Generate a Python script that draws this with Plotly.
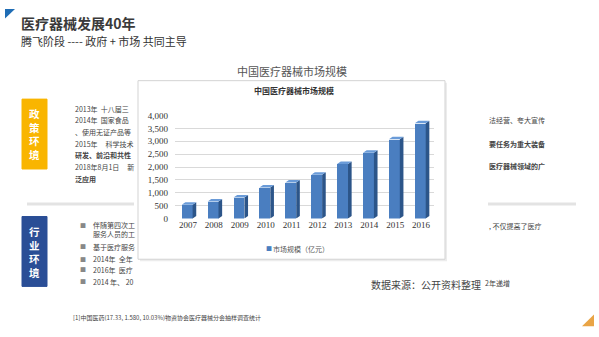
import plotly.graph_objects as go

# ---- data ----
years = [2007, 2008, 2009, 2010, 2011, 2012, 2013, 2014, 2015, 2016]
market_size = [535, 659, 812, 1200, 1400, 1700, 2120, 2556, 3080, 3700]
year_labels = [str(y) for y in years]
y_ticks = [0, 500, 1000, 1500, 2000, 2500, 3000, 3500, 4000]
series_name = "市场规模（亿元）"

policy_lines = ["2013年  十八届三", "2014年  国家食品", "、使用无证产品等", "2015年     科学技术",
                "研发、前沿和共性", "2018年8月1日     新", "泛应用"]
policy_bold = [False, False, False, False, True, False, True]
industry_lines = ["伴随第四次工", "服务人员的工", "基于医疗服务", "2014年  全年", "2016年  医疗", "2014 年、 20"]
industry_bullet = [True, False, True, True, True, True]
right_lines = ["法经营、夸大宣传", "要任务为重大装备", "医疗器械领域的广"]
right_bold = [False, True, True]

W, H = 599, 337
def px(x): return x / W
def py(y): return 1 - y / H

CJK = "Noto Sans CJK SC"
SERIF = "Liberation Serif"
BAR = "#4A7EC0"

fig = go.Figure()

# front faces
fig.add_trace(go.Bar(x=years, y=market_size, width=0.42, offset=-0.24,
                     marker=dict(color=BAR, line=dict(width=0)),
                     name=series_name, showlegend=False))

shapes = []
dx, dy = 0.14, 100
for yr, v in zip(years, market_size):
    x1 = yr + 0.18
    x0 = yr - 0.24
    shapes.append(dict(type="path", xref="x", yref="y", layer="above",
                       path=f"M {x1},0 L {x1+dx},{dy} L {x1+dx},{v+dy} L {x1},{v} Z",
                       fillcolor="#2C5589", line=dict(width=0)))
    shapes.append(dict(type="path", xref="x", yref="y", layer="above",
                       path=f"M {x0},{v} L {x1},{v} L {x1+dx},{v+dy} L {x0+dx},{v+dy} Z",
                       fillcolor="#6A9BD8", line=dict(width=0)))

# chart frame
shapes.append(dict(type="rect", xref="paper", yref="paper", layer="below",
                   x0=px(140), x1=px(447), y0=py(264), y1=py(80),
                   fillcolor="#ececec", line=dict(width=0)))
shapes.append(dict(type="rect", xref="paper", yref="paper", layer="below",
                   x0=px(138), x1=px(445), y0=py(262), y1=py(78),
                   fillcolor="white", line=dict(color="#d3d3d3", width=1)))
# top-left blue triangle
shapes.append(dict(type="path", xref="paper", yref="paper",
                   path=f"M {px(5)},{py(4)} L {px(15)},{py(4)} L {px(5)},{py(14)} Z",
                   fillcolor="#1F6DB5", line=dict(width=0)))
# bottom-right orange triangle
shapes.append(dict(type="path", xref="paper", yref="paper",
                   path=f"M {px(582)},{py(331)} L {px(594)},{py(331)} L {px(594)},{py(319)} Z",
                   fillcolor="#E9A445", line=dict(width=0)))
# label boxes
shapes.append(dict(type="rect", xref="paper", yref="paper", x0=px(22), x1=px(47), y0=py(169), y1=py(97),
                   fillcolor="#F9B500", line=dict(color="#F9B500", width=1)))
shapes.append(dict(type="rect", xref="paper", yref="paper", x0=px(22), x1=px(47), y0=py(290), y1=py(218),
                   fillcolor="#2A4E96", line=dict(color="#2A4E96", width=1)))
# separators
shapes.append(dict(type="line", xref="paper", yref="paper", x0=px(27), x1=px(134), y0=py(205), y1=py(205),
                   line=dict(color="#e3e3e3", width=3)))
shapes.append(dict(type="line", xref="paper", yref="paper", x0=px(488), x1=px(576), y0=py(205), y1=py(205),
                   line=dict(color="#e3e3e3", width=3)))

ann = []
def text(x, y, s, size, color="#333", bold=False, font=CJK, anchor="left"):
    ann.append(dict(x=px(x), y=py(y), xref="paper", yref="paper", text=f"<b>{s}</b>" if bold else s,
                    showarrow=False, xanchor=anchor, yanchor="middle",
                    font=dict(size=size, color=color, family=font)))

text(19, 19, "医疗器械发展40年", 14, "#3a3a3a", bold=True)
text(19, 37, "腾飞阶段 ---- 政府 + 市场 共同主导", 11, "#333")
text(292, 68, "中国医疗器械市场规模", 11, "#555", anchor="center")
text(294, 88, "中国医疗器械市场规模", 8, "#333", bold=True, anchor="center")
text(34.5, 133, "<br>".join("政策环境"), 10.5, "white", bold=True, anchor="center")
text(34.5, 255, "<br>".join("行业环境"), 10.5, "white", bold=True, anchor="center")
for i, (s, b) in enumerate(zip(policy_lines, policy_bold)):
    text(73, 107 + i * 12.0, s, 7, "#444", bold=b)
iy = [227, 236, 249, 262, 273, 285]
for s, b, y in zip(industry_lines, industry_bullet, iy):
    if b:
        text(78, y, "■", 6, "#888")
    text(91, y, s, 7, "#444")
for s, b, y in zip(right_lines, right_bold, [119, 143, 166]):
    text(487, y, s, 7, "#444", bold=b)
text(487, 228, ", 不仅提高了医疗", 7, "#444")
text(483, 287, "2年递增", 7, "#444")
text(369, 288, "数据来源：公开资料整理", 10, "#444")
text(71, 322, "[1]中国医药(17.33, 1.580, 10.03%)物资协会医疗器械分会抽样调查统计", 6, "#444")
# legend
text(264, 251, "■", 6, BAR)
text(271, 251, series_name, 7, "#555")

fig.update_layout(
    width=W, height=H, autosize=False,
    margin=dict(l=0, r=0, t=0, b=0),
    paper_bgcolor="white", plot_bgcolor="rgba(0,0,0,0)",
    shapes=shapes, annotations=ann, bargap=0, showlegend=False,
    xaxis=dict(domain=[px(175), px(434)], range=[2006.5, 2016.5], tickvals=years, ticktext=year_labels,
               showgrid=False, zeroline=False, showline=False, ticks="",
               tickfont=dict(family=SERIF, size=9, color="#333")),
    yaxis=dict(domain=[py(220), py(114)], range=[0, 4000], tickvals=y_ticks, tickformat=",",
               showgrid=True, gridcolor="#d9d9d9", gridwidth=1, zeroline=False, showline=False,
               ticks="", ticklabelstandoff=6,
               tickfont=dict(family=SERIF, size=9, color="#333")),
)

fig.write_html("out.html")
